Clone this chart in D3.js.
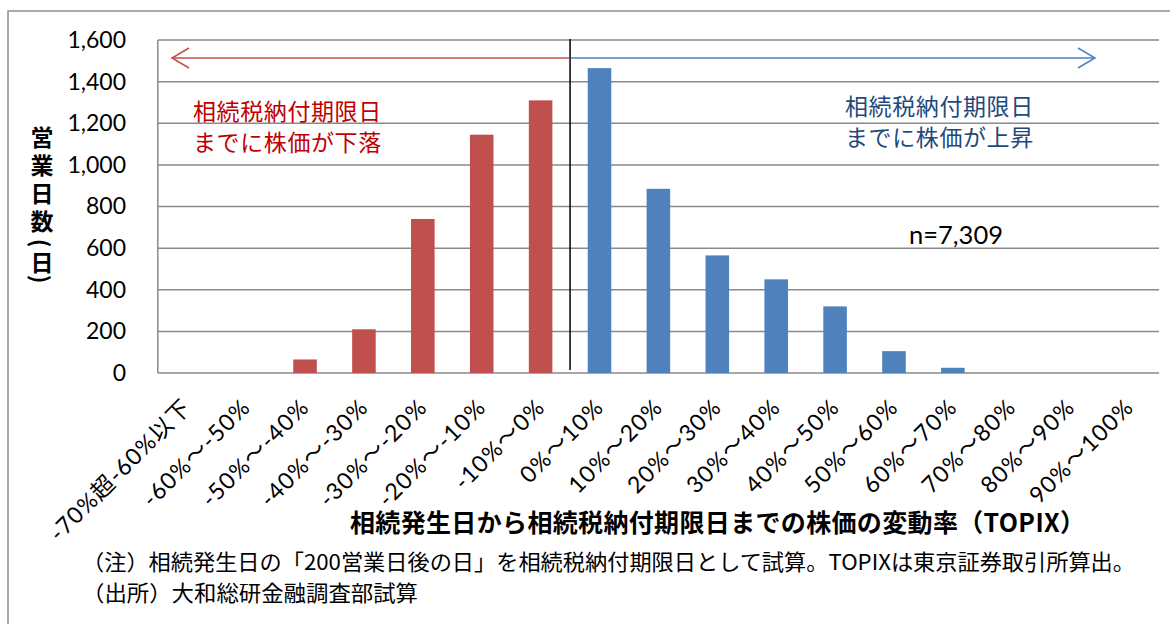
<!DOCTYPE html>
<html><head><meta charset="utf-8">
<script src="https://cdn.jsdelivr.net/npm/d3@7"></script>
<style>
body{margin:0;background:#fff;}
svg{display:block;}
text{font-family:Lato,"Noto Sans CJK JP",sans-serif;}
.jp{font-family:"Noto Sans CJK JP",sans-serif;}
</style></head>
<body>
<svg id="chart" width="1170" height="624"></svg>
<script>
const categories = ["-70%超-60%以下","-60%～-50%","-50%～-40%","-40%～-30%","-30%～-20%","-20%～-10%","-10%～0%","0%～10%","10%～20%","20%～30%","30%～40%","40%～50%","50%～60%","60%～70%","70%～80%","80%～90%","90%～100%"];
const values = [0,0,65,210,740,1145,1310,1465,885,565,450,320,105,25,0,0,0];
const yTicks = [0,200,400,600,800,1000,1200,1400,1600];
const firstRiseCategory = "0%～10%";
const yTitleMain = "営業日数";
const yTitleUnit = ["(","日",")"];
const xTitle = "相続発生日から相続税納付期限日までの株価の変動率（TOPIX）";
const downLabel = ["相続税納付期限日","までに株価が下落"];
const upLabel = ["相続税納付期限日","までに株価が上昇"];
const sampleLabel = "n=7,309";
const notes = ["（注）相続発生日の「200営業日後の日」を相続税納付期限日として試算。TOPIXは東京証券取引所算出。","（出所）大和総研金融調査部試算"];

const svg = d3.select("#chart");
const RED = "#C0504D", BLUE = "#4F81BD", GRID = "#8a8a8a";
const L = 157.8, R = 1159, T = 40, B = 373;

svg.append("rect").attr("x",8).attr("y",11).attr("width",1200).attr("height",700)
  .attr("fill","none").attr("stroke","#8f8f8f").attr("stroke-width",1.5);

const x = d3.scaleBand().domain(categories).range([L,R]).paddingInner(0.6).paddingOuter(0.3);
const y = d3.scaleLinear().domain([0,1600]).range([B,T]);
const splitIdx = categories.indexOf(firstRiseCategory);

// gridlines
svg.append("g").selectAll("line").data(yTicks).join("line")
  .attr("x1",L).attr("x2",R).attr("y1",d=>y(d)).attr("y2",d=>y(d))
  .attr("stroke",GRID).attr("stroke-width",1.5);
svg.append("line").attr("x1",L).attr("x2",L).attr("y1",T).attr("y2",B).attr("stroke",GRID).attr("stroke-width",1.5);

// y axis labels
const yAxis = d3.axisLeft(y).tickValues(yTicks).tickSize(0).tickPadding(0).tickFormat(d3.format(","));
const ya = svg.append("g").attr("transform",`translate(126,0)`).call(yAxis);
ya.select(".domain").remove();
ya.selectAll("text").attr("font-size",23).attr("fill","#000").style("font-family","Lato");

// bars
svg.append("g").selectAll("rect").data(values).join("rect")
  .attr("x",(d,i)=>x(categories[i])).attr("width",x.bandwidth())
  .attr("y",d=>y(d)).attr("height",d=>B-y(d))
  .attr("fill",(d,i)=>i<splitIdx?RED:BLUE);

// x labels
svg.append("g").selectAll("text").data(categories).join("text")
  .attr("transform",d=>`translate(${x(d)+x.bandwidth()/2},${403}) rotate(-45)`)
  .attr("text-anchor","end").attr("dy","0.35em").attr("font-size",23)
  .style("letter-spacing","1.2px").text(d=>d);

// divider
const xs = x(firstRiseCategory) - x.step()*x.paddingInner()/2;
svg.append("line").attr("x1",xs).attr("x2",xs).attr("y1",39).attr("y2",370).attr("stroke","#000").attr("stroke-width",1.5);

// arrows
function arrow(x1,x2,yy,color){
  const dir = Math.sign(x2-x1);
  svg.append("line").attr("x1",x1).attr("x2",x2).attr("y1",yy).attr("y2",yy).attr("stroke",color).attr("stroke-width",1.5);
  svg.append("path").attr("d",`M${x2-dir*17},${yy-10}L${x2},${yy}L${x2-dir*17},${yy+10}`)
    .attr("fill","none").attr("stroke",color).attr("stroke-width",1.5);
}
arrow(xs-1,172,58,RED);
arrow(xs+1,1095,58,BLUE);

// annotations
const dl = svg.append("text").attr("class","jp").attr("font-size",23).attr("fill","#C00000").style("letter-spacing","0.6px");
downLabel.forEach((t,i)=>dl.append("tspan").attr("x",193).attr("y",120+i*31).text(t));
const ul = svg.append("text").attr("class","jp").attr("font-size",23).attr("fill","#1F497D").style("letter-spacing","0.6px");
upLabel.forEach((t,i)=>ul.append("tspan").attr("x",845).attr("y",115+i*31).text(t));
svg.append("text").attr("x",909).attr("y",244).attr("font-size",25.5).attr("fill","#000").style("font-family","Lato").text(sampleLabel);

// y title (vertical)
svg.append("text").attr("class","jp").attr("x",42).attr("y",126)
  .attr("font-size",23).attr("font-weight","bold")
  .style("writing-mode","vertical-rl").style("letter-spacing","5px").text(yTitleMain);
const unitY = [243,261,279];
svg.append("g").selectAll("text").data(yTitleUnit).join("text").attr("class","jp")
  .attr("x",42).attr("y",(d,i)=>unitY[i]).attr("text-anchor","middle").attr("dominant-baseline","central")
  .attr("transform",(d,i)=>(d==="("||d===")")?`rotate(90,42,${unitY[i]})`:null)
  .attr("font-size",23).attr("font-weight","bold").text(d=>d);

// x title
svg.append("text").attr("class","jp").attr("x",350).attr("y",532)
  .attr("font-size",25).attr("font-weight","bold").attr("textLength",735).attr("lengthAdjust","spacing").text(xTitle);

// notes
const noteLen = [1053,336];
notes.forEach((t,i)=>svg.append("text").attr("class","jp").attr("x",82).attr("y",570+i*31).attr("font-size",21.5)
  .attr("textLength",noteLen[i]).attr("lengthAdjust","spacingAndGlyphs").text(t));
</script>
</body></html>
